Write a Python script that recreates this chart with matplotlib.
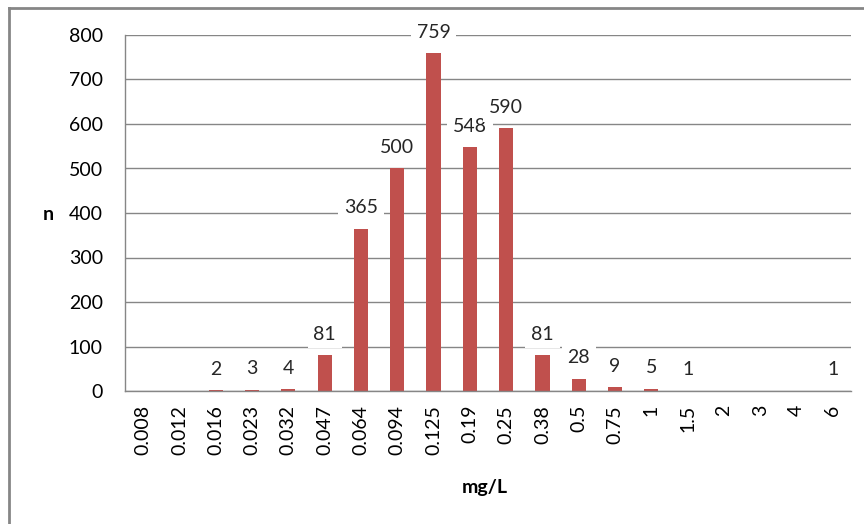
import matplotlib.pyplot as plt
from matplotlib.lines import Line2D

# --> Data
concentrations = ['0.008', '0.012', '0.016', '0.023', '0.032', '0.047', '0.064', '0.094',
                  '0.125', '0.19', '0.25', '0.38', '0.5', '0.75', '1', '1.5', '2', '3', '4', '6']
counts = [0, 0, 2, 3, 4, 81, 365, 500, 759, 548, 590, 81, 28, 9, 5, 1, 0, 0, 0, 1]

bar_color = '#C0504D'
grid_color = '#868686'
fs = 14
plt.rcParams['font.family'] = ['Lato', 'DejaVu Sans']

fig = plt.figure(figsize=(8.64, 5.24), dpi=100)
ax = fig.add_axes([125/864, 133/524, 726/864, 356/524])

x = range(len(concentrations))
ax.bar(x, counts, width=0.39, color=bar_color, zorder=2)

# data labels (only for non-zero counts), white box hides gridline behind
for xi, c in zip(x, counts):
    if c > 0:
        ax.annotate(str(c), (xi, c), xytext=(0, 15), textcoords='offset points',
                    ha='center', va='center', fontsize=fs, color='#262626',
                    bbox=dict(boxstyle='square,pad=0.3', fc='white', ec='none'), zorder=3)

ax.set_xlim(-0.5, len(concentrations) - 0.5)
ax.set_ylim(0, 800)
ax.set_yticks(range(0, 801, 100))
ax.set_xticks(list(x))
ax.set_xticklabels(concentrations, rotation=90, fontsize=fs)
ax.tick_params(axis='y', length=0, pad=16, labelsize=fs)
ax.tick_params(axis='x', length=0, pad=10)
ax.yaxis.grid(True, color=grid_color, linewidth=1, zorder=0)
ax.set_axisbelow(True)

for side in ['top', 'right']:
    ax.spines[side].set_visible(False)
for side in ['left', 'bottom']:
    ax.spines[side].set_color(grid_color)
    ax.spines[side].set_linewidth(1)

fig.text(48/864, 1 - 215/524, 'n', fontsize=fs, fontweight='bold', ha='center', va='center')
fig.text(485/864, 1 - 487/524, 'mg/L', fontsize=fs, fontweight='bold', ha='center', va='center')

# outer chart border (cropped)
fig.add_artist(Line2D([9/864, 9/864], [0, 1 - 8/524], color=grid_color, linewidth=2, transform=fig.transFigure))
fig.add_artist(Line2D([9/864, 1], [1 - 8/524, 1 - 8/524], color=grid_color, linewidth=2, transform=fig.transFigure))

fig.savefig('out.png', dpi=100)
